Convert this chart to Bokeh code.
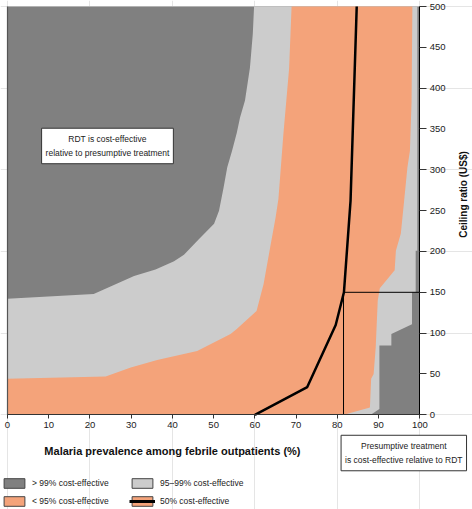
import math
from bokeh.plotting import figure
from bokeh.models import (Range1d, FixedTicker, Label, Legend, LegendItem, LinearAxis)
from bokeh.embed import file_html
from bokeh.resources import INLINE

# ---------------- data ----------------
prevalence_ticks = [0, 10, 20, 30, 40, 50, 60, 70, 80, 90, 100]
ceiling_ticks = [0, 50, 100, 150, 200, 250, 300, 350, 400, 450, 500]

# boundary between ">99% cost-effective" and "95-99%" on the RDT side (prevalence %, ceiling US$)
rdt99_x = [0, 20.9, 30.7, 35.9, 40.4, 42.8, 46.4, 50.1, 51.3, 52.4, 53.3, 54.5, 55.6, 56.4, 57.6, 58.8, 59.5, 59.8]
rdt99_y = [142, 148, 170, 178, 188, 196, 215, 234, 250, 278, 303, 324, 345, 364, 385, 425, 467, 500]

# boundary between "95-99%" and "<95%" on the RDT side
rdt95_x = [0, 23.8, 29.9, 36.3, 46.0, 54.1, 55.6, 60.4, 62.1, 63.7, 65.0, 65.7, 66.9, 68.3, 68.9]
rdt95_y = [44, 47, 58, 67, 78, 99, 105, 127, 160, 205, 241, 264, 343, 424, 500]

# boundary between "<95%" and "95-99%" on the presumptive-treatment side (top to bottom)
pt95_x = [98.2, 98.0, 97.6, 97.0, 96.2, 95.4, 94.2, 93.9, 90.3, 89.8, 89.3, 88.8, 88.2, 87.9, 81.6]
pt95_y = [500, 383, 323, 303, 262, 222, 201, 177, 155, 140, 82, 50, 44, 9, 0]

# boundary between "95-99%" and ">99%" on the presumptive-treatment side (top to bottom)
pt99_x = [99.4, 99.4, 99.0, 99.0, 98.1, 98.1, 93.1, 93.1, 90.2, 90.2, 88.1]
pt99_y = [500, 201, 201, 150, 150, 111, 99, 85, 85, 7, 0]

# 50% cost-effective line
median_x = [60.0, 72.7, 79.6, 81.6, 83.2, 84.7]
median_y = [0, 34, 110, 150, 262, 500]

threshold_prevalence = 81.5
threshold_ceiling = 150

legend_labels = ["> 99% cost-effective", "< 95% cost-effective",
                 "95\u201399% cost-effective", "50% cost-effective"]

# ---------------- style ----------------
DARK = "#808080"
LIGHT = "#cccccc"
ORANGE = "#f4a37a"
FONT = "Liberation Sans"
TXT = "#222222"

x0, x1 = prevalence_ticks[0], prevalence_ticks[-1]
y0, y1 = ceiling_ticks[0], ceiling_ticks[-1]

# the frame fills the whole canvas; axes are pinned at the data edges
p = figure(width=472, height=509, output_backend="svg", toolbar_location=None,
           x_range=Range1d(-1.698, 112.78), y_range=Range1d(-115.97, 507.35),
           x_axis_location=None, y_axis_location=None, min_border=0)
p.background_fill_color = "white"
p.border_fill_color = "white"
p.outline_line_color = None

# >99% (background of the chart area)
p.quad(left=[x0], right=[x1], bottom=[y0], top=[y1], fill_color=DARK, line_color=None)
# light grey band (95-99%)
p.patch(rdt99_x + pt99_x + [x0], rdt99_y + pt99_y + [y0], fill_color=LIGHT, line_color=None)
# orange band (<95%)
p.patch(rdt95_x + pt95_x + [x0], rdt95_y + pt95_y + [y0], fill_color=ORANGE, line_color=None)

# left edge
p.line([x0, x0], [y0, y1], line_color="#555555", line_width=1.2)

# threshold lines
p.line([threshold_prevalence, threshold_prevalence], [y0, threshold_ceiling], line_color="black", line_width=1)
p.line([threshold_prevalence, x1], [threshold_ceiling, threshold_ceiling], line_color="black", line_width=1)

# 50% line
p.line(median_x, median_y, line_color="black", line_width=2.5)

# axes
xa = LinearAxis(fixed_location=y0, bounds=(x0, x1), ticker=FixedTicker(ticks=prevalence_ticks))
xa.major_tick_out = 4
xa.major_tick_in = 0
xa.minor_tick_line_color = None
xa.axis_line_color = "#333333"
xa.major_tick_line_color = "#333333"
xa.major_label_text_font = FONT
xa.major_label_text_font_size = "9.5px"
xa.major_label_text_color = TXT
xa.major_label_standoff = 3
p.add_layout(xa, "below")

ya = LinearAxis(fixed_location=x1, bounds=(y0, y1), ticker=FixedTicker(ticks=ceiling_ticks))
ya.major_tick_out = 7
ya.major_tick_in = 0
ya.minor_tick_line_color = None
ya.axis_line_color = "black"
ya.major_tick_line_color = "#333333"
ya.major_label_text_font = FONT
ya.major_label_text_font_size = "9.5px"
ya.major_label_text_color = TXT
ya.major_label_standoff = 3
p.add_layout(ya, "right")

# axis titles
p.add_layout(Label(x=40.0, y=-44.9, text="Malaria prevalence among febrile outpatients (%)",
                   text_font=FONT, text_font_size="11px", text_font_style="bold",
                   text_align="center", text_baseline="middle", text_color="#111111"))
p.add_layout(Label(x=110.6, y=269.8, angle=math.pi / 2, text="Ceiling ratio (US$)",
                   text_font=FONT, text_font_size="10px", text_font_style="bold",
                   text_align="center", text_baseline="middle", text_color="#111111"))

# boxed notes
p.add_layout(Label(x=24.25, y=329.2, text="RDT is cost-effective\nrelative to presumptive treatment",
                   text_font=FONT, text_font_size="8.5px", text_align="center", text_baseline="middle",
                   text_color=TXT, text_line_height=1.35,
                   background_fill_color="white", border_line_color="#333333", border_line_width=1,
                   padding=(4, 6)))
p.add_layout(Label(x=96.12, y=-46.8, text="Presumptive treatment\nis cost-effective relative to RDT",
                   text_font=FONT, text_font_size="8.5px", text_align="center", text_baseline="middle",
                   text_color=TXT, text_line_height=1.35,
                   background_fill_color="white", border_line_color="#333333", border_line_width=1,
                   padding=(4, 6)))

# legend (hidden proxy renderers carry the swatch styles)
r_dark = p.quad(left=[x0], right=[x0], top=[y0], bottom=[y0], fill_color=DARK, line_color="#444444", visible=False)
r_light = p.quad(left=[x0], right=[x0], top=[y0], bottom=[y0], fill_color=LIGHT, line_color="#444444", visible=False)
r_orange = p.quad(left=[x0], right=[x0], top=[y0], bottom=[y0], fill_color=ORANGE, line_color="#444444", visible=False)
r_orange2 = p.quad(left=[x0], right=[x0], top=[y0], bottom=[y0], fill_color=ORANGE, line_color="#444444", visible=False)
r_line = p.line(x=[x0, x0], y=[y0, y0], line_color="black", line_width=3, visible=False)

legend = Legend(items=[
    LegendItem(label=legend_labels[0], renderers=[r_dark]),
    LegendItem(label=legend_labels[1], renderers=[r_orange]),
    LegendItem(label=legend_labels[2], renderers=[r_light]),
    LegendItem(label=legend_labels[3], renderers=[r_orange2, r_line]),
], location=(1, 2), ncols=2, orientation="vertical",
    glyph_width=26, glyph_height=12, label_height=12, label_width=91,
    label_standoff=5, spacing=6, padding=0, margin=0,
    border_line_alpha=0, background_fill_alpha=0,
    label_text_font=FONT, label_text_font_size="8.5px", label_text_color=TXT)
p.add_layout(legend, "center")

open("out.html", "w").write(file_html(p, INLINE))
